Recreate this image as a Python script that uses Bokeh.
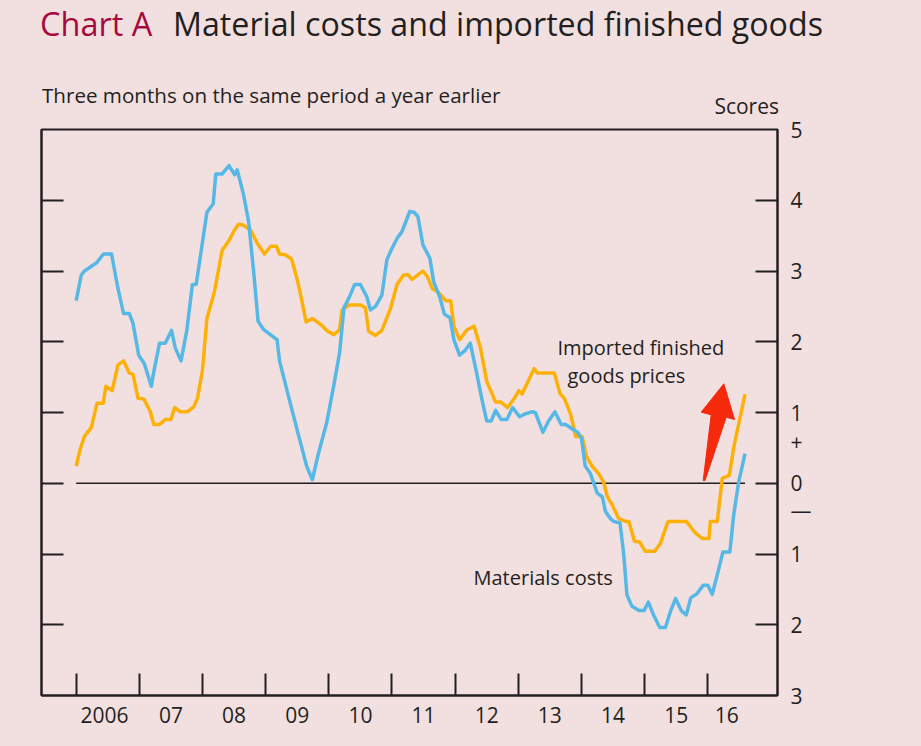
from bokeh.plotting import figure
from bokeh.models import Range1d, LinearAxis, FixedTicker, Label, Div
from bokeh.layouts import column
from bokeh.embed import file_html
from bokeh.resources import INLINE

# ---------------- data ----------------
materials_dates = [
    2006.00, 2006.08, 2006.13, 2006.33, 2006.43, 2006.56, 2006.66, 2006.75, 2006.84, 2006.90,
    2006.99, 2007.08, 2007.19, 2007.23, 2007.32, 2007.41, 2007.51, 2007.57, 2007.66, 2007.75,
    2007.84, 2007.90, 2008.07, 2008.17, 2008.21, 2008.31, 2008.42, 2008.51, 2008.55, 2008.65,
    2008.73, 2008.81, 2008.88, 2008.97, 2009.18, 2009.22, 2009.37, 2009.52, 2009.65, 2009.74,
    2009.83, 2009.97, 2010.08, 2010.17, 2010.24, 2010.32, 2010.41, 2010.50, 2010.60, 2010.66,
    2010.74, 2010.84, 2010.92, 2010.99, 2011.08, 2011.16, 2011.20, 2011.28, 2011.35, 2011.41,
    2011.49, 2011.60, 2011.66, 2011.76, 2011.83, 2011.92, 2011.98, 2012.07, 2012.15, 2012.24,
    2012.34, 2012.43, 2012.50, 2012.57, 2012.64, 2012.73, 2012.82, 2012.91, 2013.02, 2013.11,
    2013.22, 2013.27, 2013.39, 2013.48, 2013.58, 2013.68, 2013.75, 2013.85, 2013.94, 2014.00,
    2014.06, 2014.14, 2014.25, 2014.33, 2014.38, 2014.46, 2014.51, 2014.61, 2014.67, 2014.72,
    2014.80, 2014.91, 2014.99, 2015.06, 2015.14, 2015.24, 2015.33, 2015.41, 2015.49, 2015.58,
    2015.66, 2015.73, 2015.83, 2015.93, 2016.00, 2016.07, 2016.16, 2016.24, 2016.35, 2016.41,
    2016.49, 2016.59,
]
materials_values = [
    2.58, 2.94, 3.00, 3.12, 3.24, 3.24, 2.76, 2.40, 2.40, 2.26,
    1.81, 1.69, 1.37, 1.58, 1.98, 1.98, 2.16, 1.91, 1.73, 2.15,
    2.81, 2.81, 3.83, 3.95, 4.37, 4.37, 4.49, 4.36, 4.43, 4.08,
    3.70, 2.99, 2.29, 2.17, 2.03, 1.73, 1.20, 0.68, 0.24, 0.05,
    0.40, 0.87, 1.39, 1.84, 2.48, 2.62, 2.81, 2.81, 2.64, 2.45,
    2.50, 2.66, 3.16, 3.30, 3.46, 3.56, 3.65, 3.84, 3.83, 3.77,
    3.37, 3.18, 2.85, 2.62, 2.39, 2.34, 2.03, 1.81, 1.87, 1.98,
    1.56, 1.16, 0.88, 0.88, 1.03, 0.90, 0.90, 1.07, 0.94, 0.98,
    1.01, 1.00, 0.72, 0.88, 1.01, 0.83, 0.83, 0.77, 0.72, 0.64,
    0.24, 0.14, -0.14, -0.19, -0.40, -0.50, -0.54, -0.56, -1.01, -1.58,
    -1.74, -1.80, -1.80, -1.68, -1.86, -2.04, -2.04, -1.81, -1.63, -1.80,
    -1.86, -1.62, -1.56, -1.44, -1.44, -1.57, -1.26, -0.97, -0.97, -0.45,
    0.02, 0.42,
]

imports_dates = [
    2006.00, 2006.06, 2006.13, 2006.24, 2006.33, 2006.43, 2006.47, 2006.57, 2006.66, 2006.75,
    2006.84, 2006.90, 2006.98, 2007.07, 2007.17, 2007.23, 2007.32, 2007.41, 2007.50, 2007.56,
    2007.65, 2007.76, 2007.86, 2007.92, 2008.00, 2008.07, 2008.19, 2008.31, 2008.42, 2008.50,
    2008.57, 2008.64, 2008.76, 2008.87, 2008.98, 2009.08, 2009.17, 2009.22, 2009.31, 2009.41,
    2009.50, 2009.58, 2009.64, 2009.74, 2009.89, 2009.98, 2010.08, 2010.17, 2010.21, 2010.32,
    2010.50, 2010.58, 2010.63, 2010.74, 2010.84, 2010.98, 2011.08, 2011.18, 2011.25, 2011.32,
    2011.49, 2011.56, 2011.64, 2011.72, 2011.85, 2011.93, 2011.98, 2012.07, 2012.19, 2012.30,
    2012.40, 2012.50, 2012.64, 2012.72, 2012.83, 2012.93, 2013.01, 2013.06, 2013.25, 2013.30,
    2013.57, 2013.66, 2013.73, 2013.83, 2013.91, 2014.01, 2014.08, 2014.17, 2014.27, 2014.35,
    2014.41, 2014.49, 2014.59, 2014.70, 2014.75, 2014.84, 2014.92, 2015.01, 2015.16, 2015.25,
    2015.37, 2015.66, 2015.81, 2015.91, 2016.02, 2016.04, 2016.15, 2016.23, 2016.34, 2016.41,
    2016.59,
]
imports_values = [
    0.24, 0.47, 0.66, 0.79, 1.13, 1.13, 1.37, 1.31, 1.67, 1.73,
    1.56, 1.54, 1.20, 1.19, 1.02, 0.83, 0.83, 0.90, 0.90, 1.07,
    1.01, 1.01, 1.08, 1.20, 1.60, 2.33, 2.71, 3.29, 3.43, 3.57,
    3.66, 3.65, 3.58, 3.39, 3.24, 3.35, 3.35, 3.24, 3.23, 3.17,
    2.88, 2.55, 2.28, 2.33, 2.23, 2.15, 2.10, 2.17, 2.45, 2.52,
    2.52, 2.48, 2.15, 2.09, 2.16, 2.48, 2.81, 2.94, 2.95, 2.88,
    3.00, 2.92, 2.75, 2.71, 2.58, 2.58, 2.22, 2.03, 2.17, 2.22,
    1.92, 1.44, 1.15, 1.15, 1.07, 1.19, 1.31, 1.26, 1.62, 1.56,
    1.56, 1.27, 1.20, 0.97, 0.66, 0.66, 0.38, 0.24, 0.14, 0.02,
    -0.19, -0.31, -0.50, -0.54, -0.54, -0.82, -0.83, -0.96, -0.96, -0.85,
    -0.54, -0.54, -0.71, -0.78, -0.78, -0.54, -0.54, 0.07, 0.11, 0.50,
    1.26,
]

year_starts = [2006, 2007, 2008, 2009, 2010, 2011, 2012, 2013, 2014, 2015, 2016]
year_label_pos = [2006.45, 2007.5, 2008.5, 2009.5, 2010.5, 2011.5, 2012.5, 2013.5, 2014.5, 2015.5, 2016.3]
year_labels = ["2006", "07", "08", "09", "10", "11", "12", "13", "14", "15", "16"]

score_ticks = [-3, -2, -1, 0, 1, 2, 3, 4, 5]
score_labels = ["3", "2", "1", "0", "1", "2", "3", "4", "5"]
sign_pos = [0.58, -0.38]
sign_labels = ["+", "\u2014"]

# ---------------- style ----------------
FONT = "Open Sans"
INK = "#231f20"
BG = "#f2e0e0"
BLUE = "#55b8e6"
ORANGE = "#fdb108"
CRIMSON = "#a6093d"
RED = "#f5290c"

PAGE_W, PAGE_H = 921, 746
HEAD_H = 116
W, H = PAGE_W, PAGE_H - HEAD_H
L, R, T, B = 41, 144, 13, 51
X0, X1 = 2005.451, 2017.104
Y0, Y1 = -3, 5
FW, FH = W - L - R, H - T - B
FRAME_LEFT_IMG = L
FRAME_TOP_IMG = HEAD_H + T


def dx(px):
    return X0 + (px - FRAME_LEFT_IMG) / FW * (X1 - X0)


def dy(py):
    return Y1 - (py - FRAME_TOP_IMG) / FH * (Y1 - Y0)


header_html = f"""
<div style="position:relative;width:{PAGE_W}px;height:{HEAD_H}px;font-family:'{FONT}';line-height:1;white-space:nowrap;">
  <span style="position:absolute;left:40px;top:8px;font-size:32.5px;color:{CRIMSON};">Chart A</span>
  <span style="position:absolute;left:173px;top:8px;font-size:32.2px;color:{INK};">Material costs and imported finished goods</span>
  <span style="position:absolute;left:42px;top:85px;font-size:20.6px;color:{INK};">Three months on the same period a year earlier</span>
  <span style="position:absolute;right:142px;top:96px;font-size:21px;color:{INK};">Scores</span>
</div>
"""
header = Div(text=header_html, width=PAGE_W, height=HEAD_H, margin=(0, 0, 0, 0),
             styles={"background-color": BG})

p = figure(width=W, height=H, x_range=Range1d(X0, X1), y_range=Range1d(Y0, Y1),
           output_backend="svg", toolbar_location=None, y_axis_location="right",
           min_border_left=L, min_border_right=R, min_border_top=T, min_border_bottom=B,
           background_fill_color=BG, border_fill_color=BG, margin=(0, 0, 0, 0))
p.grid.visible = False
p.outline_line_color = INK
p.outline_line_width = 2

# bottom axis: year-boundary ticks (minor) and mid-year labels (major)
xa = p.xaxis[0]
xa.ticker = FixedTicker(ticks=year_label_pos, minor_ticks=year_starts)
xa.major_label_overrides = {k: v for k, v in zip(year_label_pos, year_labels)}
xa.major_tick_in = 0
xa.major_tick_out = 0
xa.minor_tick_in = 22
xa.minor_tick_out = 0
xa.minor_tick_line_color = INK
xa.minor_tick_line_width = 2
xa.axis_line_color = INK
xa.axis_line_width = 2
xa.major_label_standoff = 11
xa.major_label_text_font = FONT
xa.major_label_text_font_size = "21px"
xa.major_label_text_color = INK

# right axis: scores
ya = p.yaxis[0]
ya.ticker = FixedTicker(ticks=score_ticks + sign_pos, minor_ticks=score_ticks[1:-1])
ov = {k: v for k, v in zip(score_ticks, score_labels)}
ov.update({k: v for k, v in zip(sign_pos, sign_labels)})
ya.major_label_overrides = ov
ya.major_tick_in = 0
ya.major_tick_out = 0
ya.minor_tick_in = 22
ya.minor_tick_out = 0
ya.minor_tick_line_color = INK
ya.minor_tick_line_width = 2
ya.axis_line_color = INK
ya.axis_line_width = 2
ya.major_label_standoff = 13
ya.major_label_text_font = FONT
ya.major_label_text_font_size = "21px"
ya.major_label_text_color = INK

# left axis: ticks only
la = LinearAxis(ticker=FixedTicker(ticks=score_ticks[1:-1]), major_tick_in=22, major_tick_out=0,
                major_tick_line_color=INK, major_tick_line_width=2, minor_tick_line_color=None,
                axis_line_color=INK, axis_line_width=2, major_label_text_color=None)
p.add_layout(la, "left")

# zero line
p.line([min(imports_dates), max(imports_dates)], [0, 0], line_color=INK, line_width=1.5)

# series
p.line(imports_dates, imports_values, line_color=ORANGE, line_width=3.5, line_join="round")
p.line(materials_dates, materials_values, line_color=BLUE, line_width=3.5, line_join="round")

# red arrow
arrow_x = [dx(702.7), dx(710.7), dx(700.7), dx(723.3), dx(734.0), dx(725.7), dx(704.5)]
arrow_y = [dy(480), dy(414.3), dy(411.7), dy(383.3), dy(419.0), dy(416.7), dy(480)]
p.patch(arrow_x, arrow_y, fill_color=RED, line_color=RED, line_width=1)


# in-frame annotations
def add_label(text, px, py, size, color=INK, align="left"):
    p.add_layout(Label(x=dx(px), y=dy(py), text=text, text_font=FONT, text_font_size=size,
                       text_color=color, text_align=align, text_baseline="middle"))


add_label("Imported finished", 557, 347, "20px")
add_label("goods prices", 567, 375, "20px")
add_label("Materials costs", 473, 577, "20px")

layout = column(header, p, spacing=0, styles={"background-color": BG})
open("out.html", "w").write(file_html(layout, INLINE))
